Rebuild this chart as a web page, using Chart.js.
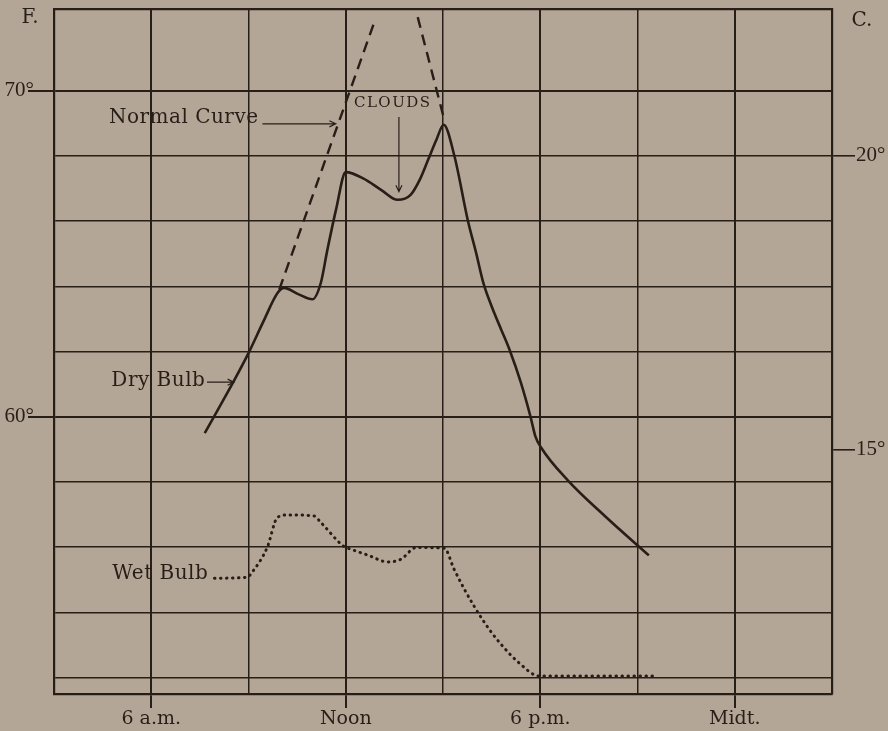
<!DOCTYPE html>
<html>
<head>
<meta charset="utf-8">
<script src="https://cdn.jsdelivr.net/npm/chart.js@4.4.1/dist/chart.umd.min.js"></script>
<style>
  html, body { margin: 0; padding: 0; background: #b3a595; }
  #wrap { width: 888px; height: 731px; position: relative; }
</style>
</head>
<body>
<div id="wrap"><canvas id="myChart"></canvas></div>
<script>
// hours of the day (3 = 3 a.m., 24 = midnight), temperatures in deg F
const dryHours = [7.65, 8.55, 9.0, 9.45, 9.9, 10.1, 10.55, 10.97, 11.23, 11.43, 11.7, 12.0, 12.55, 13.1, 13.6, 14.0, 14.3, 14.55, 14.8, 15.02, 15.35, 15.77, 16.02, 16.24, 16.49, 16.8, 17.05, 17.4, 17.7, 17.85, 18.03, 18.85, 20.0, 21.35];
const dryTemps = [59.5, 61.1, 61.95, 62.9, 63.8, 63.95, 63.75, 63.6, 64.1, 65.1, 66.35, 67.5, 67.3, 66.95, 66.65, 66.8, 67.3, 67.9, 68.5, 68.95, 68.0, 66.0, 65.03, 64.12, 63.41, 62.66, 62.06, 61.05, 60.0, 59.4, 59.05, 58.05, 56.95, 55.75];

const normalHours = [9.95, 12.9, 13.5, 14.22, 15.04];
const normalTemps = [63.9, 72.15, null, 72.25, 69.1];

const wetHours = [7.95, 8.96, 9.11, 9.58, 9.89, 10.2, 11.02, 11.23, 11.95, 12.16, 12.7, 13.29, 13.7, 14.17, 15.04, 15.34, 15.65, 15.96, 16.42, 16.89, 17.35, 17.97, 21.55];
const wetTemps = [55.05, 55.08, 55.23, 56.0, 56.91, 56.99, 56.96, 56.76, 56.02, 55.94, 55.75, 55.55, 55.63, 55.99, 55.97, 55.33, 54.73, 54.19, 53.49, 52.91, 52.45, 52.05, 52.05];

const hourGrid = [3, 6, 9, 12, 15, 18, 21, 24, 27];
const hourTicks = [6, 12, 18, 24];
const hourLabels = ['6 a.m.', 'Noon', '6 p.m.', 'Midt.'];
const fGrid = [52, 54, 56, 58, 60, 62, 64, 66, 68, 70];
const fTicks = [60, 70];
const cTicks = [15, 20];

const ink = '#281e18';
const paper = '#b4a696';
const serif = '"DejaVu Serif", serif';
const numSerif = '"Liberation Serif", serif';

const fMin = 51.5, fMax = 72.5;
const toC = f => (f - 32) * 5 / 9;

function pts(xs, ys) {
  return xs.map((x, i) => ({ x: x, y: ys[i] }));
}

// fix the axis boxes so the plot frame sits where the drawing has it
function fitBox(size) {
  return s => {
    if (s.isHorizontal()) s.height = size; else s.width = size;
    s.paddingTop = 0; s.paddingBottom = 0; s.paddingLeft = 0; s.paddingRight = 0;
  };
}

// text and arrows, placed in data units
const notes = [
  { text: 'Normal Curve', x: 9.31, y: 69.15, align: 'right', arrow: [9.43, 68.98, 11.69, 68.98] },
  { text: 'CLOUDS', x: 13.45, y: 69.62, align: 'center', small: true, arrow: [13.64, 69.19, 13.64, 66.9] },
  { text: 'Dry Bulb', x: 7.67, y: 61.1, align: 'right', arrow: [7.72, 61.06, 8.55, 61.06] },
  { text: 'Wet Bulb', x: 7.76, y: 55.17, align: 'right' }
];

function arrow(ctx, x1, y1, x2, y2) {
  const a = Math.atan2(y2 - y1, x2 - x1);
  ctx.beginPath();
  ctx.moveTo(x1, y1);
  ctx.lineTo(x2, y2);
  ctx.moveTo(x2 - 7 * Math.cos(a - 0.45), y2 - 7 * Math.sin(a - 0.45));
  ctx.lineTo(x2, y2);
  ctx.lineTo(x2 - 7 * Math.cos(a + 0.45), y2 - 7 * Math.sin(a + 0.45));
  ctx.stroke();
}

const notesPlugin = {
  id: 'notes',
  afterDatasetsDraw(chart) {
    const { ctx, chartArea } = chart;
    const xs = chart.scales.x, ys = chart.scales.y;
    ctx.save();
    ctx.fillStyle = ink;
    ctx.strokeStyle = ink;
    ctx.lineWidth = 1.2;
    notes.forEach(n => {
      ctx.font = n.small ? '15px ' + serif : '20px ' + serif;
      ctx.letterSpacing = n.small ? '1.5px' : '0.5px';
      ctx.textAlign = n.align;
      ctx.textBaseline = 'middle';
      ctx.fillText(n.text, xs.getPixelForValue(n.x), ys.getPixelForValue(n.y));
      if (n.arrow) {
        arrow(ctx, xs.getPixelForValue(n.arrow[0]), ys.getPixelForValue(n.arrow[1]),
          xs.getPixelForValue(n.arrow[2]), ys.getPixelForValue(n.arrow[3]));
      }
    });
    ctx.letterSpacing = '0px';
    ctx.font = '20px ' + serif;
    ctx.textAlign = 'center';
    ctx.fillText('F.', chartArea.left - 24, chartArea.top + 9);
    ctx.fillText('C.', chartArea.right + 30, chartArea.top + 12);
    ctx.restore();
  }
};

const bgPlugin = {
  id: 'bg',
  beforeDraw(chart) {
    const ctx = chart.ctx;
    ctx.save();
    ctx.fillStyle = paper;
    ctx.fillRect(0, 0, chart.width, chart.height);
    ctx.restore();
  }
};

new Chart(document.getElementById('myChart'), {
  type: 'line',
  data: {
    datasets: [
      {
        label: 'Dry Bulb',
        data: pts(dryHours, dryTemps),
        borderColor: ink,
        borderWidth: 2.6,
        pointRadius: 0,
        cubicInterpolationMode: 'monotone'
      },
      {
        label: 'Normal Curve',
        data: pts(normalHours, normalTemps),
        borderColor: ink,
        borderWidth: 2.4,
        borderDash: [11, 7],
        pointRadius: 0,
        tension: 0,
        spanGaps: false
      },
      {
        label: 'Wet Bulb',
        data: pts(wetHours, wetTemps),
        borderColor: ink,
        borderWidth: 3,
        borderDash: [0.5, 5.5],
        borderCapStyle: 'round',
        pointRadius: 0,
        cubicInterpolationMode: 'monotone'
      }
    ]
  },
  options: {
    responsive: true,
    maintainAspectRatio: false,
    animation: false,
    events: [],
    layout: { padding: 0 },
    plugins: {
      legend: { display: false },
      tooltip: { enabled: false }
    },
    scales: {
      x: {
        type: 'linear',
        position: 'bottom',
        min: 3,
        max: 27,
        afterBuildTicks: s => { s.ticks = hourGrid.map(v => ({ value: v })); },
        afterFit: fitBox(37),
        ticks: {
          autoSkip: false,
          maxRotation: 0,
          padding: 0,
          color: ink,
          font: { family: serif, size: 19 },
          callback: v => {
            const i = hourTicks.indexOf(v);
            return i < 0 ? '' : hourLabels[i];
          }
        },
        grid: {
          color: ink,
          lineWidth: c => (hourTicks.includes(c.tick && c.tick.value) ? 2 : 1.5),
          tickLength: 14,
          tickColor: c => (hourTicks.includes(c.tick && c.tick.value) ? ink : 'rgba(0,0,0,0)')
        },
        border: { display: true, color: ink, width: 2.2 }
      },
      xTop: {
        type: 'linear',
        position: 'top',
        min: 3,
        max: 27,
        afterFit: fitBox(9),
        ticks: { display: false },
        grid: { display: false },
        border: { display: true, color: ink, width: 2.2 }
      },
      y: {
        type: 'linear',
        position: 'left',
        min: fMin,
        max: fMax,
        afterBuildTicks: s => { s.ticks = fGrid.map(v => ({ value: v })); },
        afterFit: fitBox(54),
        ticks: {
          autoSkip: false,
          padding: -6,
          color: ink,
          font: { family: numSerif, size: 21 },
          callback: v => (fTicks.includes(v) ? v + '°' : '')
        },
        grid: {
          color: ink,
          lineWidth: c => (fTicks.includes(c.tick && c.tick.value) ? 2 : 1.5),
          tickLength: 26,
          tickColor: c => (fTicks.includes(c.tick && c.tick.value) ? ink : 'rgba(0,0,0,0)')
        },
        border: { display: true, color: ink, width: 2.2 }
      },
      yC: {
        type: 'linear',
        position: 'right',
        min: toC(fMin),
        max: toC(fMax),
        afterBuildTicks: s => { s.ticks = cTicks.map(v => ({ value: v })); },
        afterFit: fitBox(56),
        ticks: {
          autoSkip: false,
          padding: 1,
          color: ink,
          font: { family: numSerif, size: 21 },
          callback: v => v + '°'
        },
        grid: {
          drawOnChartArea: false,
          color: ink,
          lineWidth: 1.6,
          tickLength: 23
        },
        border: { display: true, color: ink, width: 2.2 }
      }
    }
  },
  plugins: [bgPlugin, notesPlugin]
});
</script>
</body>
</html>
